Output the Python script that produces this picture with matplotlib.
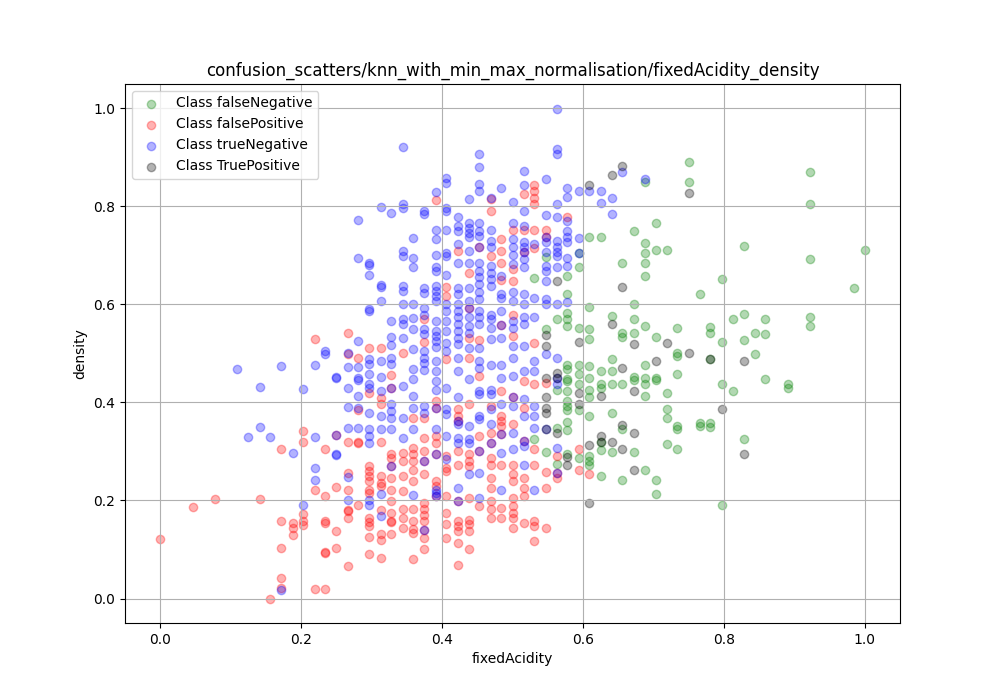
import numpy as np
import matplotlib
matplotlib.use("Agg")
import matplotlib.pyplot as plt

TITLE = "confusion_scatters/knn_with_min_max_normalisation/fixedAcidity_density"

# (fixedAcidity, density) pairs, grouped by acidity column

false_negative = [
    (0.531, 0.654), (0.531, 0.325),
    (0.547, 0.697), (0.547, 0.549), (0.547, 0.299),
    (0.563, 0.570), (0.563, 0.426), (0.563, 0.348), (0.563, 0.275),
    (0.578, 0.658), (0.578, 0.621), (0.578, 0.583), (0.578, 0.570), (0.578, 0.556),
    (0.578, 0.477), (0.578, 0.467), (0.578, 0.447), (0.578, 0.443), (0.578, 0.424),
    (0.578, 0.402), (0.578, 0.393), (0.578, 0.385), (0.578, 0.359), (0.578, 0.343),
    (0.578, 0.295),
    (0.594, 0.704), (0.594, 0.675), (0.594, 0.552), (0.594, 0.477), (0.594, 0.457),
    (0.594, 0.437), (0.594, 0.385), (0.594, 0.287),
    (0.609, 0.738), (0.609, 0.594), (0.609, 0.549), (0.609, 0.529), (0.609, 0.474),
    (0.609, 0.450), (0.609, 0.426), (0.609, 0.411), (0.609, 0.372), (0.609, 0.290),
    (0.609, 0.280), (0.609, 0.273),
    (0.625, 0.738), (0.625, 0.464), (0.625, 0.437), (0.625, 0.430), (0.625, 0.320),
    (0.625, 0.302), (0.625, 0.250),
    (0.641, 0.576), (0.641, 0.488), (0.641, 0.464), (0.641, 0.437), (0.641, 0.379),
    (0.641, 0.299),
    (0.656, 0.685), (0.656, 0.542), (0.656, 0.533), (0.656, 0.437), (0.656, 0.345),
    (0.656, 0.241),
    (0.672, 0.750), (0.672, 0.600), (0.672, 0.570), (0.672, 0.542), (0.672, 0.452),
    (0.672, 0.445), (0.672, 0.299),
    (0.688, 0.849), (0.688, 0.725), (0.688, 0.705), (0.688, 0.685), (0.688, 0.658),
    (0.688, 0.555), (0.688, 0.477), (0.688, 0.450), (0.688, 0.437), (0.688, 0.413),
    (0.688, 0.261),
    (0.703, 0.765), (0.703, 0.711), (0.703, 0.534), (0.703, 0.450), (0.703, 0.445),
    (0.703, 0.241), (0.703, 0.213),
    (0.719, 0.711), (0.719, 0.418), (0.719, 0.386), (0.719, 0.367), (0.719, 0.316),
    (0.734, 0.552), (0.734, 0.500), (0.734, 0.494), (0.734, 0.457), (0.734, 0.351),
    (0.734, 0.345), (0.734, 0.305),
    (0.750, 0.889), (0.750, 0.850),
    (0.766, 0.620), (0.766, 0.358), (0.766, 0.351),
    (0.781, 0.554), (0.781, 0.542), (0.781, 0.488), (0.781, 0.358), (0.781, 0.349),
    (0.797, 0.651), (0.797, 0.522), (0.797, 0.437), (0.797, 0.190),
    (0.813, 0.569), (0.813, 0.424),
    (0.828, 0.718), (0.828, 0.581), (0.828, 0.527), (0.828, 0.326),
    (0.844, 0.542), (0.844, 0.498),
    (0.859, 0.569), (0.859, 0.539), (0.859, 0.447),
    (0.891, 0.437), (0.891, 0.430),
    (0.922, 0.869), (0.922, 0.804), (0.922, 0.692), (0.922, 0.573), (0.922, 0.556),
    (0.984, 0.634),
    (1.000, 0.711),
]

false_positive = [
    (0.000, 0.122), (0.047, 0.187), (0.078, 0.203), (0.141, 0.202), (0.156, 0.000),
    (0.172, 0.305), (0.172, 0.159), (0.172, 0.103), (0.172, 0.041), (0.172, 0.022),
    (0.188, 0.153), (0.188, 0.143), (0.188, 0.130),
    (0.203, 0.342), (0.203, 0.320), (0.203, 0.173), (0.203, 0.159), (0.203, 0.149),
    (0.219, 0.529), (0.219, 0.222), (0.219, 0.020),
    (0.234, 0.305), (0.234, 0.208), (0.234, 0.157), (0.234, 0.153), (0.234, 0.093),
    (0.234, 0.095), (0.234, 0.020),
    (0.250, 0.333), (0.250, 0.228), (0.250, 0.137), (0.250, 0.103),
    (0.266, 0.542), (0.266, 0.498), (0.266, 0.320), (0.266, 0.255), (0.266, 0.222),
    (0.266, 0.178), (0.266, 0.180), (0.266, 0.165), (0.266, 0.067),
    (0.281, 0.490), (0.281, 0.384), (0.281, 0.320), (0.281, 0.318), (0.281, 0.190),
    (0.297, 0.510), (0.297, 0.418), (0.297, 0.270), (0.297, 0.260), (0.297, 0.250),
    (0.297, 0.240), (0.297, 0.222), (0.297, 0.216), (0.297, 0.165), (0.297, 0.155),
    (0.297, 0.148), (0.297, 0.126), (0.297, 0.091),
    (0.313, 0.510), (0.313, 0.409), (0.313, 0.397), (0.313, 0.320), (0.313, 0.250),
    (0.313, 0.235), (0.313, 0.229), (0.313, 0.180), (0.313, 0.131), (0.313, 0.119),
    (0.313, 0.082),
    (0.328, 0.456), (0.328, 0.430), (0.328, 0.295), (0.328, 0.287), (0.328, 0.270),
    (0.328, 0.246), (0.328, 0.222), (0.328, 0.198), (0.328, 0.175), (0.328, 0.158),
    (0.328, 0.155), (0.328, 0.131),
    (0.344, 0.500), (0.344, 0.297), (0.344, 0.280), (0.344, 0.250), (0.344, 0.219),
    (0.344, 0.182), (0.344, 0.165), (0.344, 0.144),
    (0.359, 0.369), (0.359, 0.307), (0.359, 0.294), (0.359, 0.280), (0.359, 0.263),
    (0.359, 0.239), (0.359, 0.182), (0.359, 0.158), (0.359, 0.141), (0.359, 0.134),
    (0.359, 0.080),
    (0.375, 0.569), (0.375, 0.523), (0.375, 0.369), (0.375, 0.328), (0.375, 0.301),
    (0.375, 0.280), (0.375, 0.253), (0.375, 0.195), (0.375, 0.182), (0.375, 0.171),
    (0.375, 0.158), (0.375, 0.140), (0.375, 0.124), (0.375, 0.101),
    (0.391, 0.813), (0.391, 0.403), (0.391, 0.389), (0.391, 0.331), (0.391, 0.318),
    (0.391, 0.294), (0.391, 0.239), (0.391, 0.229), (0.391, 0.209),
    (0.406, 0.636), (0.406, 0.617), (0.406, 0.488), (0.406, 0.291), (0.406, 0.267),
    (0.406, 0.260), (0.406, 0.209), (0.406, 0.175), (0.406, 0.151), (0.406, 0.124),
    (0.422, 0.709), (0.422, 0.386), (0.422, 0.372), (0.422, 0.362), (0.422, 0.301),
    (0.422, 0.273), (0.422, 0.198), (0.422, 0.158), (0.422, 0.148), (0.422, 0.138),
    (0.422, 0.113), (0.422, 0.069),
    (0.438, 0.663), (0.438, 0.593), (0.438, 0.532), (0.438, 0.491), (0.438, 0.396),
    (0.438, 0.294), (0.438, 0.280), (0.438, 0.270), (0.438, 0.205), (0.438, 0.161),
    (0.438, 0.151), (0.438, 0.138), (0.438, 0.101),
    (0.453, 0.717), (0.453, 0.528), (0.453, 0.454), (0.453, 0.332), (0.453, 0.301),
    (0.453, 0.189),
    (0.469, 0.814), (0.469, 0.790), (0.469, 0.699), (0.469, 0.393), (0.469, 0.338),
    (0.469, 0.318), (0.469, 0.287), (0.469, 0.273), (0.469, 0.246), (0.469, 0.226),
    (0.469, 0.198), (0.469, 0.182), (0.469, 0.165),
    (0.484, 0.733), (0.484, 0.709), (0.484, 0.685), (0.484, 0.649), (0.484, 0.558),
    (0.484, 0.423), (0.484, 0.372), (0.484, 0.362), (0.484, 0.351), (0.484, 0.335),
    (0.484, 0.273), (0.484, 0.185), (0.484, 0.165),
    (0.500, 0.751), (0.500, 0.672), (0.500, 0.648), (0.500, 0.577), (0.500, 0.535),
    (0.500, 0.410), (0.500, 0.355), (0.500, 0.273), (0.500, 0.253), (0.500, 0.239),
    (0.500, 0.205), (0.500, 0.189), (0.500, 0.175), (0.500, 0.165), (0.500, 0.144),
    (0.516, 0.825), (0.516, 0.751), (0.516, 0.706), (0.516, 0.443), (0.516, 0.389),
    (0.516, 0.321), (0.516, 0.246), (0.516, 0.226), (0.516, 0.209), (0.516, 0.153),
    (0.531, 0.843), (0.531, 0.830), (0.531, 0.816), (0.531, 0.804), (0.531, 0.751),
    (0.531, 0.715), (0.531, 0.520), (0.531, 0.437), (0.531, 0.304), (0.531, 0.273),
    (0.531, 0.158), (0.531, 0.148), (0.531, 0.117),
    (0.547, 0.751), (0.547, 0.736), (0.547, 0.440), (0.547, 0.257), (0.547, 0.226),
    (0.547, 0.144),
    (0.563, 0.290), (0.563, 0.256), (0.563, 0.246),
    (0.578, 0.777), (0.594, 0.305), (0.594, 0.261), (0.609, 0.254),
]

true_negative = [
    (0.109, 0.467), (0.125, 0.329), (0.141, 0.431), (0.141, 0.349), (0.156, 0.329),
    (0.172, 0.475), (0.172, 0.018), (0.188, 0.297), (0.203, 0.427), (0.203, 0.190),
    (0.219, 0.477), (0.219, 0.329), (0.219, 0.267), (0.219, 0.242),
    (0.234, 0.505), (0.234, 0.498),
    (0.250, 0.451), (0.250, 0.449), (0.250, 0.333), (0.250, 0.295), (0.250, 0.293),
    (0.266, 0.500), (0.266, 0.471), (0.266, 0.430), (0.266, 0.391), (0.266, 0.347),
    (0.266, 0.248), (0.266, 0.201),
    (0.281, 0.771), (0.281, 0.694), (0.281, 0.524), (0.281, 0.471), (0.281, 0.449),
    (0.281, 0.445), (0.281, 0.412), (0.281, 0.389), (0.281, 0.347),
    (0.297, 0.684), (0.297, 0.680), (0.297, 0.659), (0.297, 0.590), (0.297, 0.586),
    (0.297, 0.488), (0.297, 0.478), (0.297, 0.457), (0.297, 0.437), (0.297, 0.430),
    (0.297, 0.378), (0.297, 0.345), (0.297, 0.331), (0.297, 0.318), (0.297, 0.200),
    (0.297, 0.190),
    (0.313, 0.798), (0.313, 0.640), (0.313, 0.636), (0.313, 0.607), (0.313, 0.484),
    (0.313, 0.452), (0.313, 0.424), (0.313, 0.372), (0.313, 0.345), (0.313, 0.213),
    (0.313, 0.169),
    (0.328, 0.785), (0.328, 0.565), (0.328, 0.534), (0.328, 0.516), (0.328, 0.490),
    (0.328, 0.478), (0.328, 0.430), (0.328, 0.396), (0.328, 0.382), (0.328, 0.369),
    (0.328, 0.345), (0.328, 0.270),
    (0.344, 0.920), (0.344, 0.805), (0.344, 0.797), (0.344, 0.708), (0.344, 0.698),
    (0.344, 0.637), (0.344, 0.627), (0.344, 0.600), (0.344, 0.570), (0.344, 0.560),
    (0.344, 0.532), (0.344, 0.433), (0.344, 0.369), (0.344, 0.328),
    (0.359, 0.735), (0.359, 0.695), (0.359, 0.675), (0.359, 0.600), (0.359, 0.572),
    (0.359, 0.549), (0.359, 0.508), (0.359, 0.467), (0.359, 0.447), (0.359, 0.413),
    (0.359, 0.389), (0.359, 0.345), (0.359, 0.210),
    (0.375, 0.790), (0.375, 0.783), (0.375, 0.634), (0.375, 0.623), (0.375, 0.593),
    (0.375, 0.579), (0.375, 0.549), (0.375, 0.539), (0.375, 0.505), (0.375, 0.491),
    (0.375, 0.480), (0.375, 0.465), (0.375, 0.392), (0.375, 0.379), (0.375, 0.280),
    (0.375, 0.140),
    (0.391, 0.829), (0.391, 0.751), (0.391, 0.732), (0.391, 0.700), (0.391, 0.675),
    (0.391, 0.668), (0.391, 0.637), (0.391, 0.627), (0.391, 0.617), (0.391, 0.607),
    (0.391, 0.566), (0.391, 0.545), (0.391, 0.535), (0.391, 0.525), (0.391, 0.512),
    (0.391, 0.484), (0.391, 0.464), (0.391, 0.443), (0.391, 0.426), (0.391, 0.389),
    (0.391, 0.345), (0.391, 0.294), (0.391, 0.222), (0.391, 0.215), (0.391, 0.209),
    (0.406, 0.858), (0.406, 0.848), (0.406, 0.797), (0.406, 0.790), (0.406, 0.751),
    (0.406, 0.705), (0.406, 0.698), (0.406, 0.659), (0.406, 0.600), (0.406, 0.586),
    (0.406, 0.566), (0.406, 0.545), (0.406, 0.520), (0.406, 0.505), (0.406, 0.430),
    (0.406, 0.386), (0.406, 0.376), (0.406, 0.331), (0.406, 0.284),
    (0.422, 0.777), (0.422, 0.760), (0.422, 0.750), (0.422, 0.722), (0.422, 0.685),
    (0.422, 0.634), (0.422, 0.620), (0.422, 0.600), (0.422, 0.586), (0.422, 0.573),
    (0.422, 0.559), (0.422, 0.545), (0.422, 0.532), (0.422, 0.518), (0.422, 0.491),
    (0.422, 0.464), (0.422, 0.410), (0.422, 0.362), (0.422, 0.355), (0.422, 0.328),
    (0.422, 0.318), (0.422, 0.226), (0.422, 0.198),
    (0.438, 0.814), (0.438, 0.766), (0.438, 0.756), (0.438, 0.746), (0.438, 0.736),
    (0.438, 0.709), (0.438, 0.685), (0.438, 0.634), (0.438, 0.607), (0.438, 0.593),
    (0.438, 0.573), (0.438, 0.556), (0.438, 0.542), (0.438, 0.510), (0.438, 0.447),
    (0.438, 0.351), (0.438, 0.325), (0.438, 0.318), (0.438, 0.253),
    (0.453, 0.907), (0.453, 0.880), (0.453, 0.845), (0.453, 0.831), (0.453, 0.766),
    (0.453, 0.750), (0.453, 0.740), (0.453, 0.717), (0.453, 0.685), (0.453, 0.668),
    (0.453, 0.655), (0.453, 0.641), (0.453, 0.624), (0.453, 0.610), (0.453, 0.586),
    (0.453, 0.573), (0.453, 0.559), (0.453, 0.510), (0.453, 0.484), (0.453, 0.470),
    (0.453, 0.423), (0.453, 0.416), (0.453, 0.372), (0.453, 0.366), (0.453, 0.301),
    (0.453, 0.256), (0.453, 0.205),
    (0.469, 0.817), (0.469, 0.751), (0.469, 0.729), (0.469, 0.716), (0.469, 0.678),
    (0.469, 0.664), (0.469, 0.651), (0.469, 0.637), (0.469, 0.579), (0.469, 0.569),
    (0.469, 0.552), (0.469, 0.530), (0.469, 0.477), (0.469, 0.426), (0.469, 0.416),
    (0.469, 0.386), (0.469, 0.355), (0.469, 0.318),
    (0.484, 0.837), (0.484, 0.658), (0.484, 0.620), (0.484, 0.613), (0.484, 0.586),
    (0.484, 0.558), (0.484, 0.532), (0.484, 0.477), (0.484, 0.450), (0.484, 0.396),
    (0.484, 0.335), (0.484, 0.297), (0.484, 0.222),
    (0.500, 0.809), (0.500, 0.766), (0.500, 0.733), (0.500, 0.716), (0.500, 0.700),
    (0.500, 0.682), (0.500, 0.624), (0.500, 0.607), (0.500, 0.566), (0.500, 0.552),
    (0.500, 0.515), (0.500, 0.491), (0.500, 0.454), (0.500, 0.410), (0.500, 0.393),
    (0.500, 0.338), (0.500, 0.305),
    (0.516, 0.871), (0.516, 0.844), (0.516, 0.790), (0.516, 0.760), (0.516, 0.726),
    (0.516, 0.716), (0.516, 0.706), (0.516, 0.692), (0.516, 0.675), (0.516, 0.620),
    (0.516, 0.600), (0.516, 0.573), (0.516, 0.559), (0.516, 0.515), (0.516, 0.464),
    (0.516, 0.406), (0.516, 0.372), (0.516, 0.321), (0.516, 0.311), (0.516, 0.273),
    (0.531, 0.723), (0.531, 0.613), (0.531, 0.573), (0.531, 0.484), (0.531, 0.464),
    (0.531, 0.393), (0.531, 0.372), (0.531, 0.348), (0.531, 0.222),
    (0.547, 0.856), (0.547, 0.781), (0.547, 0.736), (0.547, 0.726), (0.547, 0.706),
    (0.547, 0.678), (0.547, 0.668), (0.547, 0.648), (0.547, 0.610), (0.547, 0.600),
    (0.547, 0.498), (0.547, 0.345),
    (0.563, 0.999), (0.563, 0.916), (0.563, 0.907), (0.563, 0.805), (0.563, 0.777),
    (0.563, 0.729), (0.563, 0.716), (0.563, 0.706), (0.563, 0.699), (0.563, 0.675),
    (0.563, 0.600), (0.563, 0.490), (0.563, 0.449), (0.563, 0.437), (0.563, 0.307),
    (0.563, 0.256),
    (0.578, 0.837), (0.578, 0.818), (0.578, 0.769), (0.578, 0.750), (0.578, 0.736),
    (0.578, 0.726), (0.578, 0.695), (0.578, 0.678), (0.578, 0.604),
    (0.594, 0.830), (0.594, 0.734), (0.594, 0.704),
    (0.609, 0.830), (0.625, 0.830), (0.625, 0.806), (0.641, 0.816), (0.641, 0.784),
    (0.656, 0.869), (0.688, 0.855),
]

true_positive = [
    (0.547, 0.538), (0.547, 0.515), (0.547, 0.450), (0.547, 0.410), (0.547, 0.389),
    (0.547, 0.379), (0.547, 0.345),
    (0.563, 0.648), (0.563, 0.459), (0.563, 0.449), (0.563, 0.338),
    (0.578, 0.288), (0.578, 0.273),
    (0.594, 0.523), (0.594, 0.418), (0.594, 0.396),
    (0.609, 0.843), (0.609, 0.313), (0.609, 0.195),
    (0.625, 0.412), (0.625, 0.332), (0.625, 0.320),
    (0.641, 0.863), (0.641, 0.560), (0.641, 0.320),
    (0.656, 0.882), (0.656, 0.635), (0.656, 0.469), (0.656, 0.353), (0.656, 0.305),
    (0.672, 0.518), (0.672, 0.424), (0.672, 0.338), (0.672, 0.261),
    (0.703, 0.484), (0.719, 0.520), (0.750, 0.826), (0.750, 0.500), (0.781, 0.488),
    (0.797, 0.386), (0.828, 0.484), (0.828, 0.294),
]

classes = [
    ("falseNegative", false_negative, "green"),
    ("falsePositive", false_positive, "red"),
    ("trueNegative", true_negative, "blue"),
    ("TruePositive", true_positive, "black"),
]

fig, ax = plt.subplots(figsize=(10, 7), dpi=100)

for name, pts, color in classes:
    arr = np.array(pts)
    ax.scatter(arr[:, 0], arr[:, 1], c=color, alpha=0.3, label=f"Class {name}")

ax.set_title(TITLE)
ax.set_xlabel("fixedAcidity")
ax.set_ylabel("density")
ax.grid(True)
ax.legend(loc="upper left")

fig.savefig("out.png")
